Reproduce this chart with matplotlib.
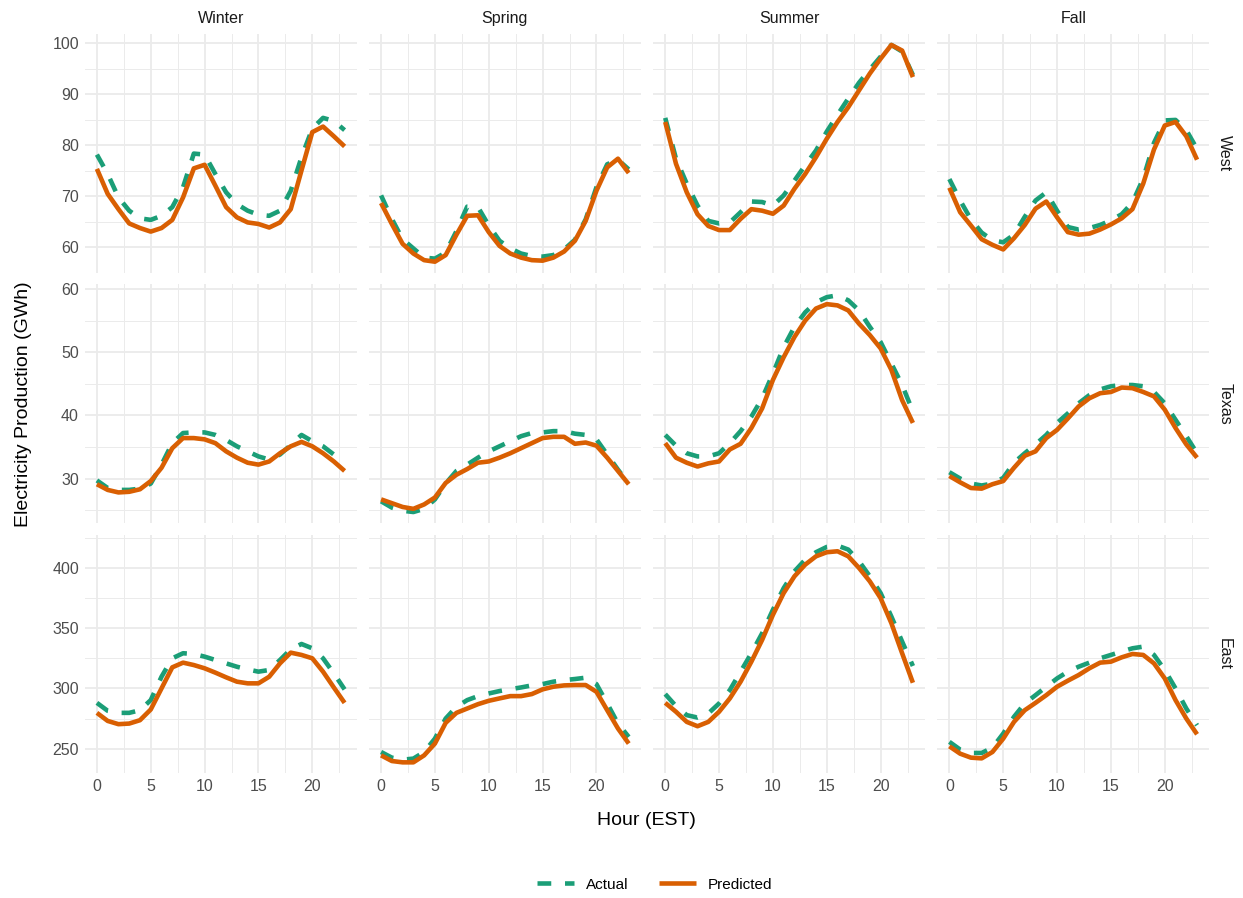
import matplotlib
matplotlib.use("Agg")
import matplotlib.pyplot as plt
from matplotlib.ticker import MultipleLocator

plt.rcParams['font.family'] = ['Liberation Sans', 'DejaVu Sans']

hours = list(range(24))
seasons = ["Winter", "Spring", "Summer", "Fall"]
regions = ["West", "Texas", "East"]

# hourly electricity production, GWh
west_winter_actual = [78.2, 74.4, 69.8, 67.2, 65.7, 65.4, 66.2, 67.9, 71.8, 78.4, 78.2, 74.4, 70.8, 68.5, 67.2, 66.4, 66.2, 67.2, 71.1, 77.7, 83.3, 85.4, 84.8, 83.0]
west_winter_pred = [75.4, 70.5, 67.5, 64.7, 63.8, 63.1, 63.8, 65.4, 69.8, 75.5, 76.2, 72.1, 67.9, 65.9, 64.9, 64.6, 63.9, 64.9, 67.5, 75.1, 82.6, 83.7, 81.8, 79.8]
west_spring_actual = [70.2, 65.6, 61.6, 59.8, 58.0, 57.8, 59.0, 63.2, 68.0, 67.9, 64.3, 61.3, 59.8, 58.8, 58.3, 58.2, 58.5, 59.6, 61.5, 65.5, 71.8, 76.3, 77.2, 75.3]
west_spring_pred = [68.7, 64.6, 60.7, 58.8, 57.5, 57.2, 58.5, 62.5, 66.2, 66.3, 63.0, 60.3, 58.8, 58.0, 57.5, 57.4, 58.0, 59.2, 61.3, 65.2, 71.1, 75.7, 77.4, 74.6]
west_summer_actual = [85.4, 77.4, 72.5, 68.2, 65.2, 64.7, 64.9, 66.9, 69.0, 68.9, 68.2, 70.2, 73.1, 76.1, 79.0, 82.7, 86.0, 89.2, 92.3, 94.9, 97.4, 99.7, 98.4, 93.8]
west_summer_pred = [84.6, 76.4, 70.8, 66.5, 64.2, 63.4, 63.4, 65.6, 67.5, 67.2, 66.6, 68.2, 71.5, 74.4, 77.7, 81.3, 84.6, 87.5, 90.8, 94.1, 97.0, 99.7, 98.6, 93.4]
west_fall_actual = [73.4, 69.2, 65.5, 62.9, 61.4, 61.0, 62.5, 66.0, 69.2, 70.8, 67.2, 64.0, 63.5, 63.8, 64.4, 65.3, 66.5, 68.8, 73.5, 80.5, 84.9, 85.0, 83.0, 79.3]
west_fall_pred = [71.7, 66.9, 64.3, 61.6, 60.5, 59.6, 61.8, 64.4, 67.6, 69.0, 65.9, 63.0, 62.5, 62.7, 63.5, 64.5, 65.7, 67.5, 72.5, 79.2, 83.9, 84.6, 81.8, 77.2]

texas_winter_actual = [29.7, 28.5, 28.2, 28.2, 28.4, 29.2, 32.2, 35.6, 37.2, 37.3, 37.3, 36.9, 36.1, 35.1, 34.3, 33.5, 33.0, 33.8, 35.3, 36.9, 35.9, 35.1, 33.8, 32.7]
texas_winter_pred = [29.1, 28.2, 27.8, 27.9, 28.3, 29.6, 31.7, 34.8, 36.4, 36.4, 36.2, 35.6, 34.3, 33.3, 32.5, 32.2, 32.7, 34.0, 35.1, 35.8, 35.1, 34.0, 32.7, 31.2]
texas_spring_actual = [26.4, 25.4, 24.9, 24.7, 25.2, 26.7, 29.2, 31.2, 32.2, 33.3, 34.3, 35.1, 35.9, 36.7, 37.2, 37.3, 37.5, 37.5, 37.1, 36.9, 36.2, 33.8, 31.4, 29.2]
texas_spring_pred = [26.7, 26.1, 25.5, 25.2, 25.9, 27.0, 29.3, 30.6, 31.5, 32.5, 32.7, 33.3, 34.0, 34.8, 35.6, 36.4, 36.6, 36.6, 35.5, 35.7, 35.2, 33.3, 31.2, 29.1]
texas_summer_actual = [36.9, 35.2, 34.0, 33.5, 33.5, 34.0, 35.6, 37.5, 39.8, 42.7, 46.6, 50.8, 54.0, 56.3, 57.9, 58.7, 59.0, 58.2, 56.6, 54.0, 51.6, 48.2, 44.8, 40.6]
texas_summer_pred = [35.6, 33.3, 32.5, 31.9, 32.4, 32.7, 34.6, 35.5, 38.0, 41.1, 45.6, 49.2, 52.4, 55.0, 56.9, 57.6, 57.4, 56.6, 54.5, 52.7, 50.6, 47.2, 42.4, 38.8]
texas_fall_actual = [31.0, 30.0, 29.2, 28.9, 29.2, 30.1, 32.5, 34.0, 35.4, 36.9, 38.8, 40.3, 41.9, 43.2, 44.1, 44.6, 44.8, 44.8, 44.6, 43.7, 41.9, 39.3, 36.7, 34.0]
texas_fall_pred = [30.4, 29.4, 28.5, 28.4, 29.1, 29.6, 31.7, 33.6, 34.3, 36.4, 37.7, 39.5, 41.4, 42.7, 43.5, 43.7, 44.4, 44.3, 43.7, 43.0, 40.9, 38.0, 35.4, 33.3]

east_winter_actual = [288.0, 281.4, 279.7, 279.7, 281.9, 290.3, 309.7, 325.0, 329.2, 328.6, 326.4, 323.6, 320.8, 318.0, 315.8, 313.9, 315.3, 323.6, 332.5, 336.9, 333.3, 325.0, 312.5, 299.2]
east_winter_pred = [279.7, 273.0, 270.3, 270.8, 273.6, 282.5, 300.0, 317.5, 321.4, 319.4, 316.7, 313.1, 309.2, 305.6, 304.2, 304.2, 309.7, 320.8, 329.7, 327.8, 325.0, 313.9, 300.8, 288.0]
east_spring_actual = [247.2, 242.5, 240.8, 241.7, 247.2, 258.3, 275.0, 284.7, 290.3, 293.6, 295.8, 297.8, 299.4, 300.8, 302.5, 303.6, 305.6, 306.9, 307.8, 308.9, 303.6, 287.5, 270.8, 259.7]
east_spring_pred = [244.4, 239.7, 238.6, 238.6, 244.4, 254.2, 271.4, 279.7, 283.3, 286.9, 289.7, 291.7, 293.6, 293.6, 295.3, 299.2, 301.4, 302.5, 302.8, 302.8, 297.2, 281.9, 266.7, 254.2]
east_summer_actual = [295.3, 285.3, 277.8, 275.8, 279.2, 287.5, 298.6, 313.9, 329.2, 345.8, 365.3, 383.3, 397.2, 406.9, 413.1, 417.5, 418.6, 415.3, 405.6, 393.1, 379.2, 359.7, 338.9, 318.6]
east_summer_pred = [288.0, 280.6, 272.2, 268.6, 272.2, 280.6, 291.7, 305.6, 322.2, 340.3, 361.1, 379.2, 393.1, 402.8, 409.7, 413.1, 413.9, 409.7, 400.0, 388.9, 375.0, 354.2, 329.2, 304.7]
east_fall_actual = [255.6, 249.2, 246.4, 246.4, 250.8, 262.5, 276.4, 287.5, 294.4, 301.4, 308.3, 313.9, 318.0, 321.4, 325.0, 327.8, 330.6, 333.3, 334.7, 327.8, 315.3, 300.0, 283.3, 269.4]
east_fall_pred = [251.9, 245.8, 242.5, 241.9, 247.2, 258.3, 272.2, 281.9, 288.0, 294.4, 301.4, 306.4, 311.1, 316.7, 321.4, 322.2, 325.8, 328.6, 327.8, 320.8, 308.3, 290.3, 275.0, 261.9]

series = {
    ("West", "Winter"): (west_winter_actual, west_winter_pred),
    ("West", "Spring"): (west_spring_actual, west_spring_pred),
    ("West", "Summer"): (west_summer_actual, west_summer_pred),
    ("West", "Fall"): (west_fall_actual, west_fall_pred),
    ("Texas", "Winter"): (texas_winter_actual, texas_winter_pred),
    ("Texas", "Spring"): (texas_spring_actual, texas_spring_pred),
    ("Texas", "Summer"): (texas_summer_actual, texas_summer_pred),
    ("Texas", "Fall"): (texas_fall_actual, texas_fall_pred),
    ("East", "Winter"): (east_winter_actual, east_winter_pred),
    ("East", "Spring"): (east_spring_actual, east_spring_pred),
    ("East", "Summer"): (east_summer_actual, east_summer_pred),
    ("East", "Fall"): (east_fall_actual, east_fall_pred),
}

# y tick spacing per row (major, minor)
y_steps = {"West": (10, 5), "Texas": (10, 5), "East": (50, 25)}

col_actual = "#1B9E77"
col_pred = "#D95F02"
grid_col = "#EBEBEB"

fig, axes = plt.subplots(3, 4, figsize=(12.43, 8.98), dpi=100, sharex=True, sharey='row')
fig.subplots_adjust(left=0.068, right=0.973, top=0.962, bottom=0.139, wspace=0.043, hspace=0.05)

for i, region in enumerate(regions):
    for j, season in enumerate(seasons):
        ax = axes[i, j]
        actual, pred = series[(region, season)]
        ax.plot(hours, actual, color=col_actual, lw=3.3, linestyle=(0, (3, 3)),
                label="Actual", zorder=3)
        ax.plot(hours, pred, color=col_pred, lw=3.3, solid_capstyle='butt',
                solid_joinstyle='round', label="Predicted", zorder=3)

        for s in ax.spines.values():
            s.set_visible(False)
        ax.xaxis.set_major_locator(MultipleLocator(5))
        ax.xaxis.set_minor_locator(MultipleLocator(2.5))
        major, minor = y_steps[region]
        ax.yaxis.set_major_locator(MultipleLocator(major))
        ax.yaxis.set_minor_locator(MultipleLocator(minor))
        ax.grid(which='major', color=grid_col, lw=1.3, zorder=0)
        ax.grid(which='minor', color=grid_col, lw=0.7, zorder=0)
        ax.set_axisbelow(True)
        ax.tick_params(which='both', length=0, labelsize=11.5, labelcolor="#4D4D4D", pad=4)

        if i == 0:
            ax.set_title(season, fontsize=11.5, color="#1A1A1A", pad=8)
        if j == 3:
            ax.annotate(region, xy=(1, 0.5), xycoords='axes fraction', xytext=(11, 0),
                        textcoords='offset points', rotation=270, ha='center', va='center',
                        fontsize=11.5, color="#1A1A1A")

fig.supylabel("Electricity Production (GWh)", x=0.012, y=0.55, fontsize=14)
fig.supxlabel("Hour (EST)", x=0.52, y=0.077, fontsize=14)

handles, labels = axes[0, 0].get_legend_handles_labels()
fig.legend(handles, labels, loc='center', bbox_to_anchor=(0.527, 0.015), ncol=2,
           frameon=False, fontsize=11, handlelength=2.4, columnspacing=2.0, handletextpad=0.8)

fig.savefig("out.png", dpi=100, facecolor="white")
